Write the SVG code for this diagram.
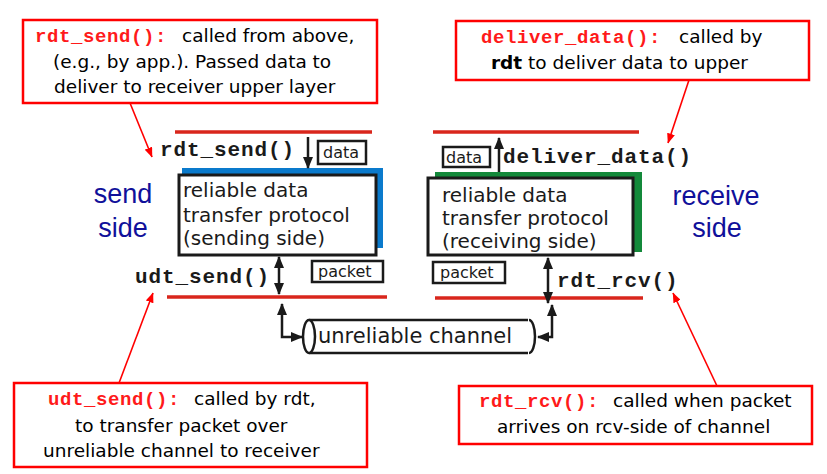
<svg xmlns="http://www.w3.org/2000/svg" width="827" height="474" viewBox="0 0 827 474">
<defs>
<marker id="ah" viewBox="0 0 12 10" refX="11" refY="5" markerWidth="12" markerHeight="10" markerUnits="userSpaceOnUse" orient="auto-start-reverse">
<path d="M0,0 L12,5 L0,10 Z" fill="#1a1a1a"/>
</marker>
<marker id="rh" viewBox="0 0 10 8" refX="9.5" refY="4" markerWidth="10" markerHeight="8" markerUnits="userSpaceOnUse" orient="auto">
<path d="M0,0 L10,4 L0,8 Z" fill="#ff0000"/>
</marker>
</defs>
<style>
.callout{fill:#fff;stroke:#ff0000;stroke-width:2.5}
.ct{font-family:"DejaVu Sans",Verdana,sans-serif;font-size:18.5px;fill:#000}
.cm{font-family:"Liberation Mono","Courier New",monospace;font-weight:bold;font-size:19px;letter-spacing:0.6px;fill:#ff1a1a}
.mono{font-family:"Liberation Mono","Courier New",monospace;font-weight:bold;font-size:21px;letter-spacing:0.9px;fill:#1a1a1a}
.layer{stroke:#d9261c;stroke-width:3.5}
.box{fill:#fff;stroke:#1a1a1a;stroke-width:3}
.sbox{fill:#fff;stroke:#1a1a1a;stroke-width:2.5}
.pt{font-family:"DejaVu Sans",sans-serif;font-size:20px;fill:#1a1a1a}
.st{font-family:"DejaVu Sans",sans-serif;font-size:16px;fill:#1a1a1a}
.side{font-family:"Liberation Sans",Arial,sans-serif;font-size:27px;fill:#10109a;text-anchor:middle}
.arr{stroke:#1a1a1a;stroke-width:2.5;fill:none}
.lead{stroke:#ff0000;stroke-width:1.6;fill:none}
</style>

<g id="sender">
<line class="layer" x1="175" y1="132" x2="372" y2="132"/>
<text class="mono" x="160" y="156">rdt_send()</text>
<rect class="sbox" x="318" y="141" width="48" height="23"/>
<text class="st" x="323" y="158">data</text>
<rect x="182" y="168" width="201" height="80" fill="#0a7acc"/>
<rect class="box" x="179" y="175" width="197" height="80"/>
<text class="pt" x="183" y="197">reliable data</text>
<text class="pt" x="183" y="222">transfer protocol</text>
<text class="pt" x="183" y="245">(sending side)</text>
<text class="mono" x="135" y="283">udt_send()</text>
<rect class="sbox" x="312" y="261" width="71" height="21"/>
<text class="st" x="318" y="277">packet</text>
<line class="layer" x1="167" y1="297" x2="387" y2="297"/>
<text class="side" x="123" y="203">send</text>
<text class="side" x="123" y="237">side</text>
</g>

<g id="receiver">
<line class="layer" x1="433" y1="132" x2="639" y2="132"/>
<rect class="sbox" x="443" y="147" width="47" height="20"/>
<text class="st" x="446" y="163">data</text>
<text class="mono" x="503" y="163">deliver_data()</text>
<rect x="435" y="172" width="207" height="80" fill="#13893a"/>
<rect class="box" x="428" y="178" width="205" height="77"/>
<text class="pt" x="442" y="202">reliable data</text>
<text class="pt" x="442" y="225">transfer protocol</text>
<text class="pt" x="442" y="248">(receiving side)</text>
<rect class="sbox" x="433" y="262" width="72" height="21"/>
<text class="st" x="440" y="278">packet</text>
<text class="mono" x="557" y="287">rdt_rcv()</text>
<line class="layer" x1="435" y1="298" x2="643" y2="298"/>
<text class="side" x="716" y="205">receive</text>
<text class="side" x="717" y="237">side</text>
</g>

<g id="channel">
<line class="arr" x1="309" y1="320" x2="528" y2="320"/>
<line class="arr" x1="309" y1="353" x2="528" y2="353"/>
<path class="arr" d="M529,320 A6,16.5 0 0 1 529,353"/>
<ellipse cx="309" cy="336.5" rx="6" ry="16.5" fill="#fff" stroke="#1a1a1a" stroke-width="2.5"/>
<text class="pt" x="318" y="343" style="font-size:21px">unreliable channel</text>
</g>

<g id="callout-rdt-send">
<rect class="callout" x="23" y="20" width="354" height="83"/>
<text class="cm" x="35" y="42">rdt_send():</text>
<text class="ct" x="182" y="42">called from above,</text>
<text class="ct" x="53" y="68">(e.g., by app.). Passed data to</text>
<text class="ct" x="54" y="93">deliver to receiver upper layer</text>
</g>

<g id="callout-deliver-data">
<rect class="callout" x="456" y="21" width="353" height="59"/>
<text class="cm" x="481" y="43">deliver_data():</text>
<text class="ct" x="679" y="43">called by</text>
<text class="ct" x="491" y="69"><tspan font-weight="bold">rdt</tspan> to deliver data to upper</text>
</g>

<g id="callout-udt-send">
<rect class="callout" x="14" y="383" width="353" height="84"/>
<text class="cm" x="48" y="405">udt_send():</text>
<text class="ct" x="194" y="405">called by rdt,</text>
<text class="ct" x="75" y="432">to transfer packet over</text>
<text class="ct" x="43" y="457">unreliable channel to receiver</text>
</g>

<g id="callout-rdt-rcv">
<rect class="callout" x="459" y="386" width="353" height="58"/>
<text class="cm" x="479" y="407">rdt_rcv():</text>
<text class="ct" x="613" y="407">called when packet</text>
<text class="ct" x="497" y="433">arrives on rcv-side of channel</text>
</g>

<g id="connectors">
<line class="arr" x1="308" y1="137" x2="308" y2="168" marker-end="url(#ah)"/>
<line class="arr" x1="499" y1="172" x2="499" y2="138" marker-end="url(#ah)"/>
<line class="arr" x1="279" y1="257" x2="279" y2="294" marker-start="url(#ah)" marker-end="url(#ah)"/>
<line class="arr" x1="548" y1="258" x2="548" y2="303" marker-start="url(#ah)" marker-end="url(#ah)"/>
<path class="arr" d="M282,304 L282,337 L302,337" marker-start="url(#ah)" marker-end="url(#ah)"/>
<path class="arr" d="M552,305 L552,337 L538,337" marker-start="url(#ah)" marker-end="url(#ah)"/>
<line class="lead" x1="130" y1="103" x2="152" y2="157" marker-end="url(#rh)"/>
<line class="lead" x1="689" y1="80" x2="668" y2="143" marker-end="url(#rh)"/>
<line class="lead" x1="119" y1="383" x2="153" y2="293" marker-end="url(#rh)"/>
<line class="lead" x1="717" y1="386" x2="673" y2="293" marker-end="url(#rh)"/>
</g>
</svg>
